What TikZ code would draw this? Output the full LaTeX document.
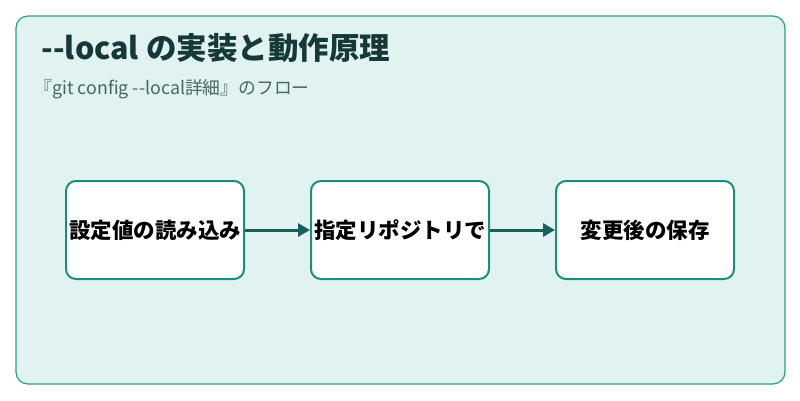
\documentclass[tikz,border=0pt]{standalone}
\usepackage{fontspec}
\setmainfont{Noto Sans CJK JP}
\usetikzlibrary{arrows.meta}
\definecolor{bgc}{HTML}{E0F3F1}
\definecolor{frame}{HTML}{2A9D8F}
\definecolor{boxc}{HTML}{1E8A80}
\definecolor{arr}{HTML}{1B5E5E}
\definecolor{ttl}{HTML}{163838}
\definecolor{sub}{HTML}{4A6464}
\begin{document}
\begin{tikzpicture}[x=1pt,y=-1pt,
  box/.style={draw=boxc,line width=2pt,fill=white,rounded corners=10pt,minimum width=178pt,minimum height=98pt,inner sep=0pt,font=\fontsize{21.5}{24}\selectfont\bfseries,text=black},
  con/.style={draw=arr,line width=3pt,-{Triangle[length=12pt,width=13pt]}}]
\useasboundingbox (0,0) rectangle (800,400);
\draw[draw=frame,line width=1.2pt,fill=bgc,rounded corners=12pt] (16,16) rectangle (785,384);
\node[anchor=west,font=\fontsize{30.5}{36}\selectfont\bfseries,text=ttl] (t) at (38,48) {-{}-local の実装と動作原理};
\node[anchor=west,font=\fontsize{17.8}{21}\selectfont,text=sub] (s) at (31,89) {『git config -{}-local詳細』のフロー};
\node[box] (a) at (155,230) {設定値の読み込み};
\node[box] (b) at (400,230) {指定リポジトリで};
\node[box] (c) at (645,230) {変更後の保存};
\draw[con] (a) -- (b);
\draw[con] (b) -- (c);
\end{tikzpicture}
\end{document}
